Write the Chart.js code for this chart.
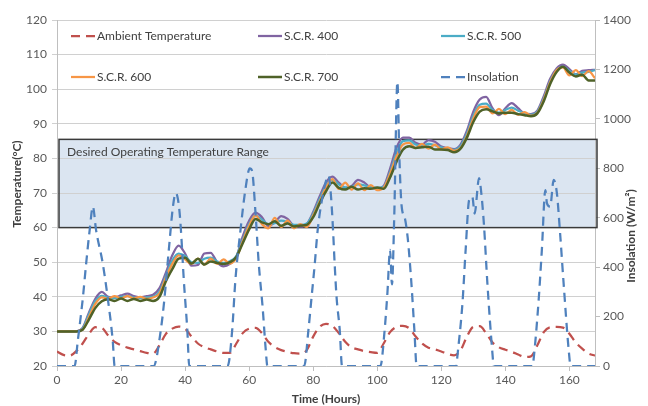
<!DOCTYPE html>
<html><head><meta charset="utf-8">
<script src="https://cdn.jsdelivr.net/npm/chart.js@4/dist/chart.umd.min.js"></script>
<style>html,body{margin:0;padding:0;background:#fff;}#wrap{width:648px;height:406px;position:relative;}</style>
</head><body><div id="wrap"><canvas id="c" width="648" height="406"></canvas></div>
<script>
// ---- data ----
const hours = [0,2,4,6,8,10,12,14,16,18,20,22,24,26,28,30,32,34,36,38,40,42,44,46,48,50,52,54,56,58,60,62,64,66,68,70,72,74,76,78,80,82,84,86,88,90,92,94,96,98,100,102,104,106,108,110,112,114,116,118,120,122,124,126,128,130,132,134,136,138,140,142,144,146,148,150,152,154,156,158,160,162,164,166,168];
const ambientTemp = [24.2,23.2,23.0,24.3,26.5,29.3,31.2,31,28.8,27,26,25.3,24.8,24.3,23.8,23.6,26,29.3,30.8,31.4,30.8,28.5,26.5,25.4,24.8,24.2,23.8,23.8,26.5,29.5,30.8,31,29.5,27,25.5,24.6,24.1,23.7,23.6,24.6,28.5,31.3,32.2,31.6,29.5,27,25.4,24.8,24.3,24,23.8,26.5,29.8,31.3,31.6,30.9,28.5,26.5,25.3,24.8,24.2,23.5,23.1,24.5,28.5,31.3,31.5,29.5,26.8,25.4,24.7,24.1,23.3,22.6,22.8,26,29.8,31.2,31.3,31.1,29.3,26.8,25,23.6,23];
const scr400 = [30,30,30,30,31,35.5,39.5,41.4,40,39.8,40.4,40.9,40.2,39.8,40.2,40.6,42.5,47,52,54.8,52.5,49,49.2,52.5,52.7,50,48.8,49.5,51.5,57.5,62,64.3,63,60.5,61.5,63.3,62.5,60.5,60.3,61,64.5,69,73,74.7,73,71.5,72,73.8,73,71.5,71.3,72,77,83,86,86,84.5,84,85.3,84.8,83.4,83,82.7,84,88,93.5,97,97.8,94.5,92.5,94.5,96,94.5,93,92.8,93.8,98,103,106,107.1,105.8,104.3,105.3,105.5,105.6];
const scr500 = [30,30,30,30,30.8,35,38.8,40.3,39.8,39.6,40,40.2,39.8,39.6,39.8,40,41.5,46,50.5,52.5,51.8,50,49.8,51,51.3,50.2,49.8,50.3,51.8,56.5,61,63.5,62.3,61,61.3,62,61.6,60.8,60.8,61.2,64,68.2,72,73.8,72.5,71.6,71.8,72.5,72.2,71.6,71.5,71.8,76,81.5,85,85.2,84,83.6,84.2,83.8,83.2,82.8,82.5,83.5,87.2,92.3,95.5,95.8,94,93.2,94,94.7,93.8,93,92.6,93.5,97.3,102.3,105.5,106.5,105.3,104.2,104.8,105,105.5];
const scr600 = [30,30,30,30,30.5,34.2,38,39.8,39.5,40.2,39.5,40.2,39.5,40,39.4,39.8,41,45.5,49.5,52,50.8,49.5,51,49.3,51,49.5,50.8,49.6,51.2,56,60.5,63.5,61,59.8,62.8,60.2,62,59.8,61,60.2,63.5,67.5,71.5,74,71.2,73,71,72.8,70.8,72.3,70.8,71.5,75.5,80.5,84,84.5,83,84.2,82.8,84,82.6,83.2,82.2,83,86.5,91.5,94.8,95,93,94.3,92.8,94,92.6,93.4,92.3,93.2,97,102,105.5,106.3,104,105.5,103.8,105.2,103.2];
const scr700 = [30,30,30,30,30.5,33.5,36.8,38.7,39.3,38.8,39.5,38.8,39.4,38.8,39.2,38.8,40,44.5,48,51,51.3,49.6,51,49.3,50.2,49.8,49.5,50,51.5,55.5,59.5,62.5,61.5,61,61.8,60.5,61.2,60.3,60.6,60.8,63,67,70.5,73,71.5,71,71.8,71,71.4,71.2,71.6,71.2,74.5,79,82.5,83.5,83,83.2,83.4,82.6,82.6,82.4,81.8,82.8,86,90.5,93.5,94.2,93.6,93,93.2,93.2,92.8,92.5,92.2,93,96.5,101.5,105,106.5,104.8,103.7,104.2,102.5,102.5];
const insolationHours = [0,5.5,6.5,8.1,9.1,10.2,11.2,12.2,14.3,15.8,17.4,18,30.2,32.4,33.5,35,36.2,37.1,38.1,38.7,39.6,40.7,41.3,53.3,54.7,55.7,57.3,58.8,60.2,60.9,62,63,64.2,65.2,65.7,77.2,78.5,79.5,80.5,81.4,83,84.8,85.6,86.2,86.7,87.3,88.3,89,101,102.3,103.2,104,104.6,105.3,106.3,106.9,107.6,108.6,109.5,110.6,111.6,112.3,124.7,125,126.6,127.6,128.7,129.7,130.4,131.8,132.5,133.3,134.4,135.9,136.4,148.5,148.9,150.4,151.4,152.5,153,154,155.1,156.1,157.1,158.2,159.8,160.4,168];
const insolation = [0,0,103,279,414,550,645,550,414,279,103,0,0,144,266,482,644,700,644,550,347,144,0,0,144,347,550,712,800,790,617,414,239,63,0,0,144,279,414,550,690,770,680,550,414,279,144,0,0,144,300,470,330,600,1150,850,650,600,520,347,144,0,0,36,252,469,672,685,617,760,699,576,334,63,0,0,36,266,469,712,658,645,753,699,537,334,63,0,0];
const xTickValues = [0,20,40,60,80,100,120,140,160];
const seriesLabels = ['Ambient Temperature','S.C.R. 400','S.C.R. 500','S.C.R. 600','S.C.R. 700','Insolation'];
const rangeLow = 60, rangeHigh = 85.5;
const rangeLabel = 'Desired Operating Temperature Range';
const leftTitle = 'Temperature(\u00B0C)';
const rightTitle = 'Insolation (W/m\u00B2)';
const bottomTitle = 'Time (Hours)';

// ---- helpers ----
const pts = (xs, ys) => xs.map((x, i) => ({x: x, y: ys[i]}));
const FONT = 'Lato';
const TXT = '#595959';

const rangeBoxPlugin = {
  id: 'rangeBox',
  beforeDraw(chart) {
    const {ctx, scales: {x, y}} = chart;
    const l = x.getPixelForValue(0) + 2, r = x.getPixelForValue(168) + 2;
    const t = y.getPixelForValue(rangeHigh), b = y.getPixelForValue(rangeLow);
    ctx.save(); ctx.fillStyle = '#dbe5f1'; ctx.fillRect(l, t, r - l, b - t); ctx.restore();
  },
  beforeDatasetsDraw(chart) {
    const {ctx, scales: {x, y}} = chart;
    const l = x.getPixelForValue(0) + 2, r = x.getPixelForValue(168) + 2;
    const t = y.getPixelForValue(rangeHigh), b = y.getPixelForValue(rangeLow);
    ctx.save();
    ctx.strokeStyle = '#3a3a3a'; ctx.lineWidth = 1.5;
    ctx.strokeRect(l, t, r - l, b - t);
    ctx.fillStyle = '#404040'; ctx.font = '12px ' + FONT; ctx.textBaseline = 'middle';
    ctx.fillText(rangeLabel, l + 8, t + 13);
    ctx.restore();
  }
};

const gridLegendPlugin = {
  id: 'gridLegend',
  afterDraw(chart) {
    const {ctx, chartArea: a} = chart;
    const colX = [a.left + 14, a.left + 201, a.left + 384];
    const rowY = [a.top + 16, a.top + 57];
    chart.data.datasets.forEach((ds, i) => {
      const x = colX[i % 3], yy = rowY[Math.floor(i / 3)];
      ctx.save();
      ctx.strokeStyle = ds.borderColor; ctx.lineWidth = ds.borderWidth;
      ctx.setLineDash(ds.borderDash || []);
      ctx.beginPath(); ctx.moveTo(x, yy); ctx.lineTo(x + 24, yy); ctx.stroke();
      ctx.setLineDash([]);
      ctx.fillStyle = '#404040'; ctx.font = '12px ' + FONT; ctx.textBaseline = 'middle';
      ctx.fillText(ds.label, x + 26, yy);
      ctx.restore();
    });
  }
};

const sideTitlesPlugin = {
  id: 'sideTitles',
  afterDraw(chart) {
    const {ctx, chartArea: a} = chart;
    const draw = (text, x, y) => {
      ctx.save();
      ctx.translate(x, y); ctx.rotate(-Math.PI / 2);
      ctx.fillStyle = '#404040'; ctx.font = 'bold 12px ' + FONT;
      ctx.textAlign = 'center'; ctx.textBaseline = 'middle';
      ctx.fillText(text, 0, 0);
      ctx.restore();
    };
    draw(leftTitle, 17, a.top + 164);
    draw(rightTitle, 631, a.top + 216);
  }
};

const lineDs = (label, data, color, order, width, dash) => ({
  label, data, borderColor: color, backgroundColor: color, borderWidth: width,
  borderDash: dash, pointRadius: 0, fill: false, showLine: true,
  cubicInterpolationMode: 'monotone', order, yAxisID: 'y', borderCapStyle: 'butt'
});

const datasets = [
  lineDs(seriesLabels[0], pts(hours, ambientTemp), '#c0504d', 6, 2.25, [9, 6]),
  lineDs(seriesLabels[1], pts(hours, scr400), '#8064a2', 5, 2.25),
  lineDs(seriesLabels[2], pts(hours, scr500), '#4bacc6', 4, 2.25),
  lineDs(seriesLabels[3], pts(hours, scr600), '#f79646', 3, 2.25),
  lineDs(seriesLabels[4], pts(hours, scr700), '#4f6228', 2, 2.5),
  Object.assign(lineDs(seriesLabels[5], pts(insolationHours, insolation), '#4f81bd', 1, 2.25, [9, 6]), {yAxisID: 'y1'})
];

new Chart(document.getElementById('c'), {
  type: 'line',
  data: {datasets},
  options: {
    responsive: false, animation: false,
    layout: {padding: {top: 20, left: 0, right: 0, bottom: 0}},
    plugins: {legend: {display: false}, tooltip: {enabled: false}},
    scales: {
      x: {
        type: 'linear', min: 0, max: 168,
        afterBuildTicks: s => { s.ticks = xTickValues.map(v => ({value: v})); },
        afterFit: s => { s.height = 40; },
        grid: {drawOnChartArea: false, drawTicks: true, tickLength: 5, color: '#bfbfbf'},
        border: {color: '#bfbfbf', width: 1},
        ticks: {color: TXT, font: {family: FONT, size: 12}, padding: 2, maxRotation: 0},
        title: {display: true, text: bottomTitle, color: '#404040', font: {family: FONT, size: 12, weight: 'bold'}, padding: {top: 0, bottom: 0}}
      },
      y: {
        position: 'left', min: 20, max: 120,
        afterFit: s => { s.width = 57; },
        grid: {color: '#d0d0d0', tickLength: 5, lineWidth: 1},
        border: {color: '#bfbfbf', width: 1},
        ticks: {stepSize: 10, color: TXT, font: {family: FONT, size: 12}, padding: 5}
      },
      y1: {
        position: 'right', min: 0, max: 1400,
        afterFit: s => { s.width = 53; },
        grid: {drawOnChartArea: false, tickLength: 5, color: '#bfbfbf'},
        border: {color: '#bfbfbf', width: 1},
        ticks: {stepSize: 200, color: TXT, font: {family: FONT, size: 12}, padding: 3, callback: v => String(v)}
      }
    }
  },
  plugins: [rangeBoxPlugin, gridLegendPlugin, sideTitlesPlugin]
});
</script></body></html>
